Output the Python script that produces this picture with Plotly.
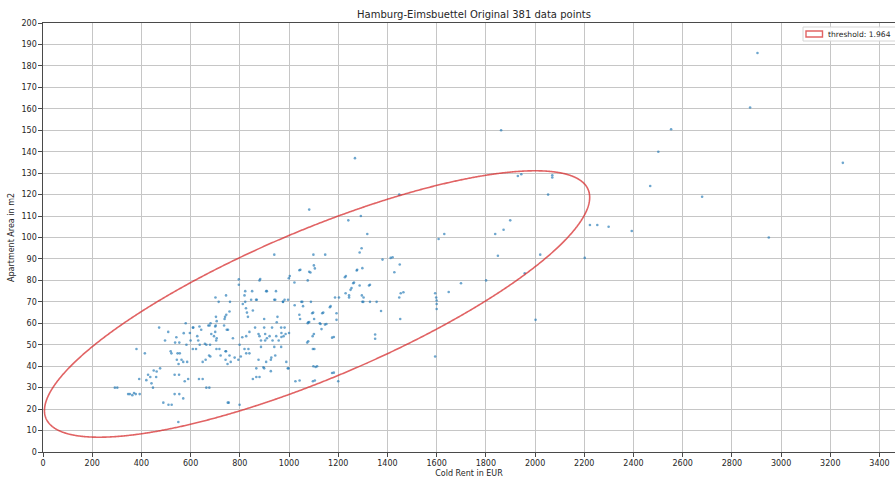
import numpy as np
import plotly.graph_objects as go

W, H = 895, 481
ML, MR, MT, MB = 43, 0, 23, 29

# Listings: cold rent (EUR) and apartment area (m2)
rent_eur = [
    292, 302, 346, 353, 363, 370, 377, 393, 380, 414,
    391, 420, 427, 436, 441, 447, 450, 460, 462, 476,
    472, 496, 509, 519, 522, 537, 542, 547, 554, 556,
    563, 570, 572, 580, 583, 586, 544, 551, 489, 510,
    523, 535, 554, 570, 550, 535, 553, 576, 590, 597,
    600, 609, 611, 609, 622, 627, 631, 636, 637, 643,
    649, 649, 658, 661, 664, 664, 672, 675, 676, 677,
    679, 680, 681, 684, 695, 634,
    700, 700, 701, 702, 703, 704, 705, 706, 706, 714,
    717, 722, 736, 738, 740, 742, 742, 744, 744, 745,
    747, 750, 751, 752, 755, 758, 758, 760, 763, 772,
    779, 794, 796, 796, 799, 799, 804, 810, 812, 819,
    819, 822, 822, 825, 826, 826, 829, 833, 835, 839,
    839, 846, 850, 853, 853, 862, 866, 867, 867, 869,
    876, 876, 880, 880, 880, 886, 886, 896, 899, 899,
    903, 903, 907, 907, 910, 910, 921, 926, 926, 928,
    931, 933, 940, 940, 940, 944, 944, 947, 948, 950,
    953, 958, 968, 968, 975, 978, 982, 986, 989, 995,
    996, 999, 998, 976, 969, 969, 982, 883, 899,
    1000, 1003, 1022, 1023, 1026, 1042, 1043, 1045, 1046, 1050,
    1054, 1057, 1074, 1076, 1076, 1078, 1078, 1082, 1082, 1082,
    1087, 1089, 1094, 1096, 1097, 1097, 1098, 1099, 1099, 1101,
    1101, 1102, 1103, 1105, 1105, 1108, 1114, 1125, 1128, 1132,
    1135, 1139, 1146, 1147, 1152, 1166, 1169, 1175, 1175, 1182,
    1182, 1187, 1193, 1193, 1200, 1203, 1227, 1230, 1231, 1241,
    1244, 1244, 1250, 1254, 1261, 1264, 1268, 1275, 1277, 1287,
    1287, 1292, 1295, 1296, 1298, 1298, 1302, 1303, 1042,
    1318, 1325, 1329, 1329, 1350, 1350, 1356, 1374, 1380, 1413,
    1421, 1428, 1448, 1448, 1450, 1452, 1454, 1465, 1594, 1598,
    1600, 1600, 1600, 1594, 1608, 1631, 1649, 1699,
    1801, 1838, 1849, 1862, 1872, 1899, 1930, 1944, 1958, 2002,
    2021, 2053, 2070, 2070, 2202, 2223, 2253, 2299, 2393, 2468,
    2501, 2553, 2679, 2874, 2904, 2950, 3251,
]
area_m2 = [
    30, 30, 27, 27, 26.5, 27.5, 27, 27, 48, 46,
    34, 33.5, 36, 35, 32, 30, 38, 35, 37.5, 39,
    58, 52, 56, 47, 46, 51, 53.5, 46, 51, 46,
    43, 42, 55.4, 60, 50, 42, 43, 41, 23, 22,
    22, 27, 27, 25, 14, 36, 36, 33, 34, 55.5,
    52, 58, 58, 48, 48, 54, 52, 58.5, 50, 57,
    34, 42, 50.5, 43, 30, 50, 59, 45, 30, 59,
    50, 44.5, 60, 55, 54, 34,
    56, 58.5, 72, 59, 63, 52, 48, 53, 61, 70,
    48, 45, 59, 62, 63, 43, 47, 73, 47, 64,
    57, 41, 23, 57, 23, 65.5, 45, 70, 42, 53,
    44, 43, 80.5, 78, 50, 22, 44.5, 53.5, 69, 73,
    48, 75, 70, 67, 54, 46, 65, 63, 48, 56,
    46, 71, 75, 66, 34, 58, 71, 39, 35, 71,
    55, 43, 80, 54, 35, 52, 49, 39.5, 62, 58,
    55, 52, 75, 42, 53, 75, 54, 43, 37.7, 44,
    58, 52, 92, 71, 49, 45, 71, 75, 54, 60.5,
    63, 52, 58, 49, 70, 54, 71, 55, 42, 39,
    71, 81, 39, 70, 55.5, 53.6, 58, 80.6, 39,
    55.5, 82, 79, 68.4, 33, 64, 33.3, 62, 85, 70,
    70, 68, 51, 80, 60, 60.5, 51.6, 113, 84, 60.6,
    83.7, 70, 64.7, 54, 48, 33, 65, 92, 40, 87,
    55, 62, 48, 85.6, 33.3, 39.6, 40, 60, 59.7, 57.3,
    64.7, 65, 59.4, 92, 59.7, 67.5, 68, 53.3, 36.8, 53.6,
    37, 72, 64.7, 61.6, 33, 72, 81.5, 74, 82, 108,
    73, 72, 75.6, 76.4, 78.7, 79, 137, 84.6, 85, 77.6,
    93, 110, 95, 73, 85.7, 70, 70, 72, 84.7,
    101.6, 77.6, 70, 78, 54.8, 52.8, 70, 65.7, 89.7, 90.5,
    90.8, 83.8, 120, 72, 87.4, 62, 74, 74.5, 74, 72,
    70.6, 69, 66.7, 44.5, 99.3, 101.6, 74.6, 78.7,
    80, 101.6, 91.5, 150, 103.6, 108, 128.7, 129.5, 83.3, 61.6,
    92, 120, 129, 128, 90.5, 105.8, 105.8, 105, 103, 124,
    140, 150.5, 119, 160.6, 186, 100, 134.8,
]

# Threshold ellipse: centre, spreads and correlation in data units
ell_center = (1114, 69)
ell_spread = (1108, 62.1)
ell_rho = 0.80
threshold_label = "threshold: 1.964"

x_ticks = list(range(0, 3401, 200))
y_ticks = list(range(0, 201, 10))
x_max = 3463

t = np.linspace(0, 2 * np.pi, 1500)
ell_x = ell_center[0] + ell_spread[0] * np.cos(t)
ell_y = ell_center[1] + ell_spread[1] * (ell_rho * np.cos(t) + np.sqrt(1 - ell_rho ** 2) * np.sin(t))

FONT = "DejaVu Sans"
TXT = "#262626"
GRID = "#c6c6c6"
AX = "#4a4a4a"
RED = "rgba(214,39,40,0.72)"

fig = go.Figure()
fig.add_trace(go.Scatter(
    x=rent_eur, y=area_m2, mode="markers",
    marker=dict(size=2.6, color="#1f77b4", opacity=0.65, line=dict(width=0)),
    showlegend=False, hoverinfo="x+y",
))
fig.add_trace(go.Scatter(
    x=ell_x, y=ell_y, mode="lines",
    line=dict(color=RED, width=1.6, simplify=False),
    showlegend=False, name=threshold_label,
))

pw = W - ML - MR
ph = H - MT - MB


def px_x(p):
    return (p - ML) / pw


def px_y(p):
    return (H - MB - p) / ph


# legend box drawn in paper space
shapes = [
    dict(type="rect", xref="paper", yref="paper",
         x0=px_x(803), x1=px_x(910), y0=px_y(41), y1=px_y(27),
         fillcolor="rgba(255,255,255,0.85)", line=dict(color="#d6d6d6", width=1), layer="above"),
    dict(type="rect", xref="paper", yref="paper",
         x0=px_x(806), x1=px_x(822.5), y0=px_y(37), y1=px_y(31),
         fillcolor="rgba(0,0,0,0)", line=dict(color=RED, width=1.4), layer="above"),
]
annotations = [
    dict(text=threshold_label, xref="paper", yref="paper", x=px_x(826), y=px_y(34),
         xanchor="left", yanchor="middle", showarrow=False,
         font=dict(family=FONT, size=7.6, color=TXT)),
]

fig.update_layout(
    width=W, height=H,
    margin=dict(l=ML, r=MR, t=MT, b=MB, autoexpand=False),
    paper_bgcolor="white", plot_bgcolor="white",
    title=dict(text="Hamburg-Eimsbuettel Original 381 data points",
               x=474 / W, xanchor="center", y=1 - 14 / H, yanchor="middle",
               font=dict(family=FONT, size=10, color=TXT)),
    font=dict(family=FONT, size=8, color=TXT),
    shapes=shapes, annotations=annotations,
    showlegend=False,
)
fig.update_xaxes(
    range=[0, x_max], tickvals=x_ticks, showgrid=True, gridcolor=GRID, gridwidth=1,
    zeroline=False, showline=True, linecolor=AX, linewidth=1.3, mirror=True,
    ticks="outside", ticklen=3.5, tickcolor=AX, tickwidth=1,
    tickfont=dict(family=FONT, size=8, color=TXT),
    title=dict(text="Cold Rent in EUR", font=dict(family=FONT, size=8, color=TXT), standoff=3),
)
fig.update_yaxes(
    range=[0, 200], tickvals=y_ticks, showgrid=True, gridcolor=GRID, gridwidth=1,
    zeroline=False, showline=True, linecolor=AX, linewidth=1.3, mirror=False,
    ticks="outside", ticklen=3.5, tickcolor=AX, tickwidth=1,
    tickfont=dict(family=FONT, size=8, color=TXT),
    title=dict(text="Apartment Area in m2", font=dict(family=FONT, size=8, color=TXT), standoff=5),
)

fig.write_html("out.html", config={"displayModeBar": False})
